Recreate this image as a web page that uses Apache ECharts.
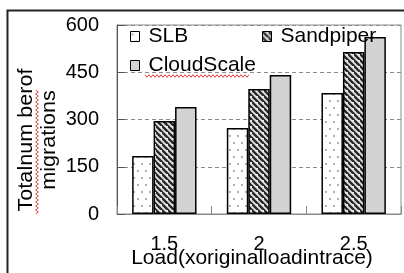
<!DOCTYPE html>
<html><head><meta charset="utf-8">
<script src="https://cdn.jsdelivr.net/npm/echarts@6/dist/echarts.min.js"></script>
<style>html,body{margin:0;padding:0;background:#fff}#c{width:404px;height:273px}</style>
</head><body><div id="c"></div>
<script>
const categories = ['1.5', '2', '2.5'];
const seriesNames = ['SLB', 'Sandpiper', 'CloudScale'];
const slbValues = [184, 273, 384];
const sandpiperValues = [295, 397, 514];
const cloudScaleValues = [340, 441, 562];
const yTicks = [0, 150, 300, 450, 600];
const xAxisName = 'Load(xoriginalloadintrace)';
const yAxisName = 'Totalnum berof\nmigrations';

const FONT = '"Liberation Sans", Arial, sans-serif';
const FS = 20;

function dotPattern() {
  const c = document.createElement('canvas'); c.width = 8; c.height = 14;
  const g = c.getContext('2d');
  g.fillStyle = '#fff'; g.fillRect(0, 0, 8, 14);
  g.fillStyle = '#8a8a8a';
  g.beginPath(); g.arc(2, 3, 0.9, 0, Math.PI * 2); g.fill();
  g.beginPath(); g.arc(6, 10, 0.9, 0, Math.PI * 2); g.fill();
  return c;
}
function stripePattern() {
  const s = 6;
  const c = document.createElement('canvas'); c.width = s; c.height = s;
  const g = c.getContext('2d');
  g.fillStyle = '#e6e6e6'; g.fillRect(0, 0, s, s);
  g.strokeStyle = '#2a2a2a'; g.lineWidth = 2.4;
  g.beginPath();
  g.moveTo(-1, -1); g.lineTo(s + 1, s + 1);
  g.moveTo(-s - 1, -1); g.lineTo(1, s + 1);
  g.moveTo(s - 1, -s - 1); g.lineTo(2 * s + 1, s + 1);
  g.stroke();
  return c;
}
function zigzag(x0, y0, len, vertical) {
  const pts = [];
  for (let i = 0; i <= len; i += 2) {
    const off = (i / 2) % 2 === 0 ? -1.3 : 1.3;
    pts.push(vertical ? [x0 + off, y0 + i] : [x0 + i, y0 + off]);
  }
  return pts;
}

const fills = [
  { image: dotPattern(), repeat: 'repeat' },
  { image: stripePattern(), repeat: 'repeat' },
  '#d3d3d3'
];
const values = [slbValues, sandpiperValues, cloudScaleValues];

const chart = echarts.init(document.getElementById('c'), null, { renderer: 'canvas' });
const legendBase = {
  icon: 'rect', itemWidth: 9, itemHeight: 10,
  itemStyle: { borderColor: '#000', borderWidth: 1 },
  textStyle: { fontFamily: FONT, fontSize: 21, color: '#000', padding: [0, 0, 0, 4] }
};
chart.setOption({
  animation: false,
  backgroundColor: '#fff',
  grid: { left: 117, right: 3, top: 25, bottom: 59, show: true, borderColor: '#8a8a8a', borderWidth: 1,
          containLabel: false, outerBoundsMode: 'none' },
  legend: [
    Object.assign({ data: [seriesNames[0]], left: 125, top: 21 }, legendBase),
    Object.assign({ data: [seriesNames[1]], left: 257, top: 21 }, legendBase),
    Object.assign({ data: [seriesNames[2]], left: 125, top: 50 }, legendBase)
  ],
  xAxis: {
    type: 'category', data: categories,
    axisLine: { lineStyle: { color: '#8a8a8a', width: 1 } },
    axisTick: { show: true, inside: true, length: 8, lineStyle: { color: '#8a8a8a' } },
    axisLabel: { fontFamily: FONT, fontSize: FS, color: '#000', margin: 20 },
    name: xAxisName, nameLocation: 'middle', nameGap: 34, nameMoveOverlap: false,
    nameTextStyle: { fontFamily: FONT, fontSize: 21, color: '#000', padding: [0, 14, 0, 0] }
  },
  yAxis: {
    type: 'value', min: yTicks[0], max: yTicks[yTicks.length - 1], interval: yTicks[1] - yTicks[0],
    axisLine: { show: true, lineStyle: { color: '#555', width: 1 } },
    axisTick: { show: true, inside: true, length: 8, lineStyle: { color: '#555' } },
    axisLabel: { fontFamily: FONT, fontSize: FS, color: '#000', margin: 18 },
    splitLine: { show: true, lineStyle: { color: '#8a8a8a', type: [4, 3], width: 1 } }
  },
  series: seriesNames.map((n, i) => ({
    name: n, type: 'bar', data: values[i],
    barGap: '0%', barCategoryGap: '32%',
    itemStyle: { color: fills[i], borderColor: '#000', borderWidth: 1.5 }
  })),
  graphic: [
    { type: 'rect', shape: { x: 7.5, y: 10.5, width: 420, height: 300 }, style: { fill: 'none', stroke: '#222', lineWidth: 2 }, silent: true },
    { type: 'text', x: 38, y: 140, rotation: Math.PI / 2, scaleX: 1.08,
      style: { text: yAxisName, font: '20px ' + FONT, fill: '#000', textAlign: 'center', textVerticalAlign: 'middle', lineHeight: 23 } },
    { type: 'polyline', shape: { points: zigzag(37, 90, 124, true) }, style: { stroke: '#e04040', lineWidth: 1, fill: 'none' }, silent: true },
    { type: 'polyline', shape: { points: zigzag(145, 76, 104, false) }, style: { stroke: '#e04040', lineWidth: 1, fill: 'none' }, silent: true }
  ]
});
</script></body></html>
